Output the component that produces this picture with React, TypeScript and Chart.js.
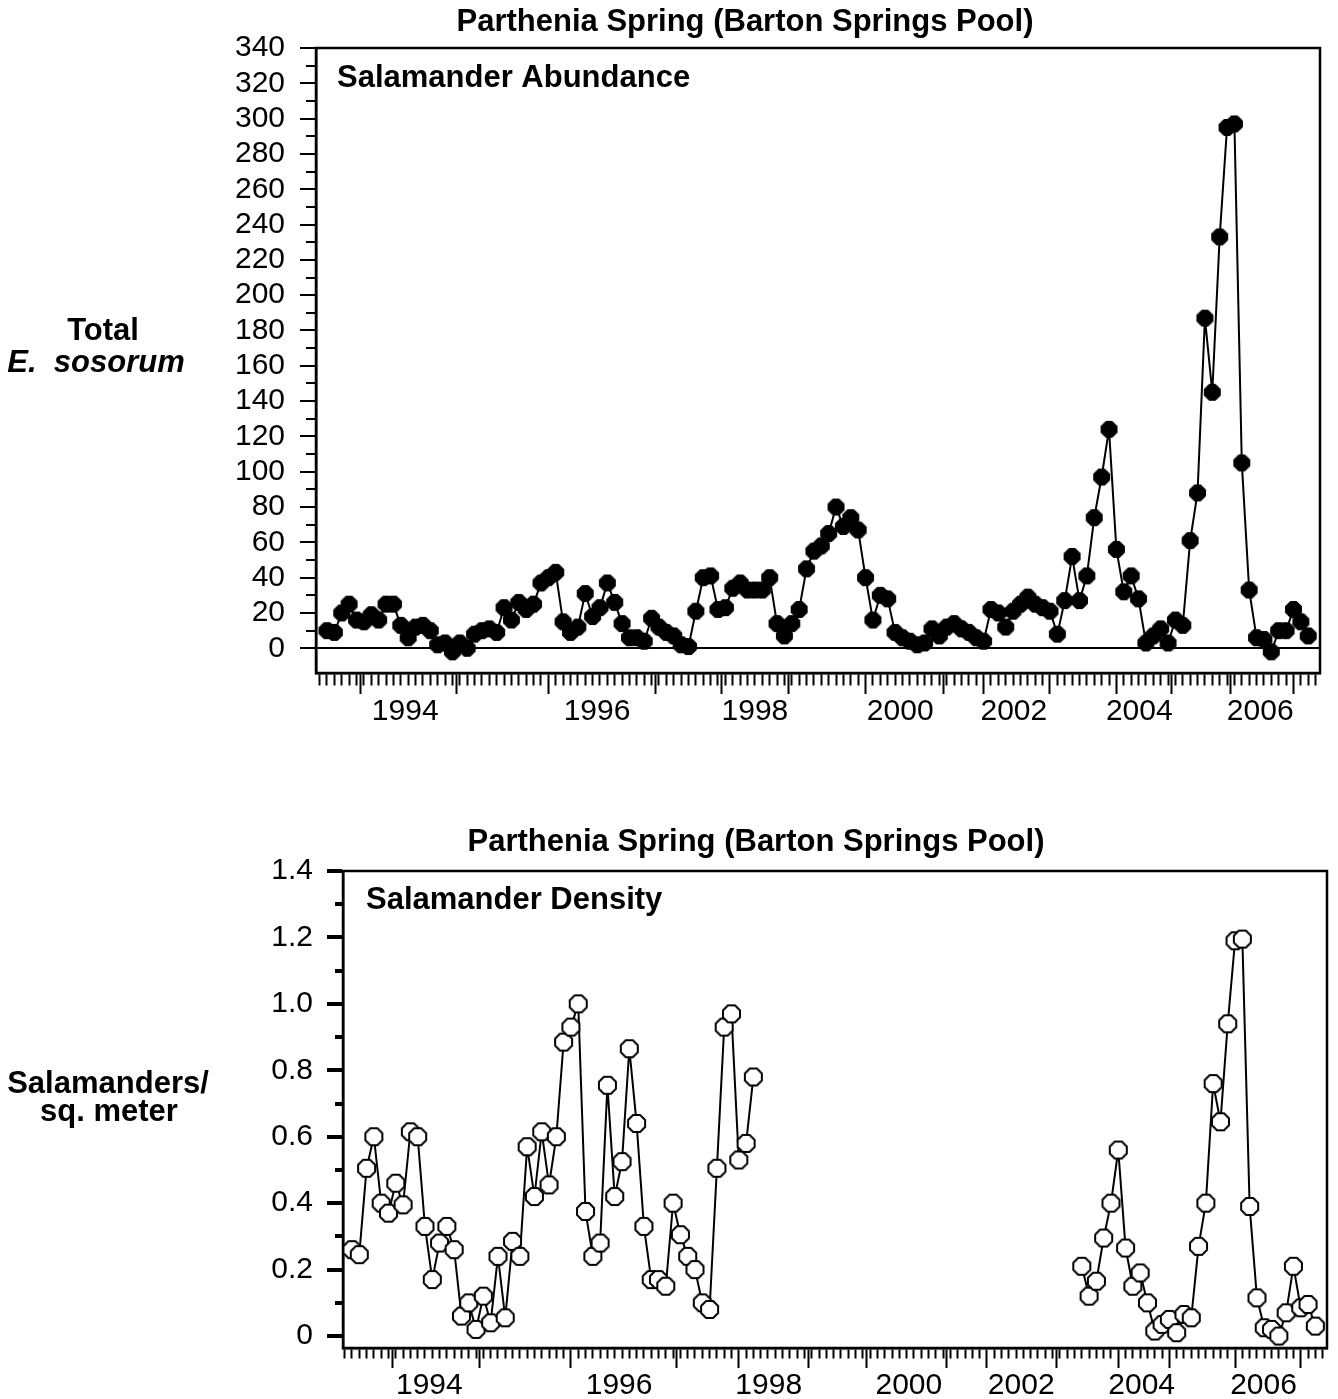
import React, { useEffect, useRef } from 'react';
import { Chart, registerables } from 'chart.js';

Chart.register(...registerables);

const FONT = "'Liberation Sans', Arial, Helvetica, sans-serif";

// ---- Data: one value per sampling event (x = sample number) ----
const abundance = [
  10, 9, 20, 25, 16, 15, 19, 16, 25, 25, 13, 6, 12, 13, 10, 2, 3, -2, 3, 0, 8, 10, 11, 9,
  23, 16, 26, 22, 25, 37, 40, 43, 15, 9, 12, 31, 18, 23, 37, 26, 14, 6, 6, 4, 17, 12, 9, 7, 2, 1,
  21, 40, 41, 22, 23, 34, 37, 33, 33, 33, 40, 14, 7, 14, 22, 45, 55, 58, 65, 80, 69, 74, 67, 40,
  16, 30, 28, 9, 6, 4, 2, 3, 11, 7, 12, 14, 11, 9, 6, 4,
  22, 20, 12, 21, 25, 29, 25, 23, 21, 8, 27, 52, 27, 41, 74, 97, 124, 56, 32, 41, 28, 3, 7, 11,
  3, 16, 13, 61, 88, 187, 145, 233, 295, 297, 105, 33, 6, 5, -2, 10, 10, 22, 15, 7,
];

const densityEarly = [
  0.26, 0.245, 0.505, 0.6, 0.4, 0.37, 0.46, 0.395, 0.615, 0.6, 0.33, 0.17, 0.28, 0.33, 0.26,
  0.06, 0.1, 0.02, 0.12, 0.04, 0.24, 0.055, 0.285, 0.24, 0.57, 0.42, 0.615, 0.455, 0.6, 0.885,
  0.93, 1.0, 0.375, 0.24, 0.28, 0.755, 0.42, 0.525, 0.865, 0.64, 0.33, 0.17, 0.17, 0.15, 0.4,
  0.305, 0.24, 0.2, 0.1, 0.08, 0.505, 0.93, 0.97, 0.53, 0.58, 0.78,
];
const densityLateStart = 100;
const densityLate = [
  0.21, 0.12, 0.165, 0.295, 0.4, 0.56, 0.265, 0.15, 0.19, 0.1, 0.015, 0.035, 0.05, 0.01, 0.065,
  0.055, 0.27, 0.4, 0.76, 0.645, 0.94, 1.19, 1.195, 0.39, 0.115, 0.025, 0.02, 0.0, 0.07, 0.21,
  0.085, 0.095, 0.03,
];

// ---- Axis tick labels (positions in sample-number units) ----
const yearLabels = ['1994', '1996', '1998', '2000', '2002', '2004', '2006'];
const abundanceLabelAt = [10.6, 36.6, 58.0, 77.7, 93.1, 110.1, 126.5];
const abundanceYearTicks = [4.5, 17.5, 30, 44.5, 53.5, 62.5, 73, 83.5, 89, 98, 107, 114.5, 122.5, 131];
const densityLabelAt = [10.6, 36.6, 57.1, 76.3, 91.7, 108.2, 124.9];
const densityYearTicks = [5.5, 17.5, 30, 44.5, 53, 62.5, 70.5, 81.5, 87, 96.5, 105, 112, 121, 130];

const abundanceYTicks = [0, 20, 40, 60, 80, 100, 120, 140, 160, 180, 200, 220, 240, 260, 280, 300, 320, 340];
const densityYTicks = [0, 0.2, 0.4, 0.6, 0.8, 1.0, 1.2, 1.4];
const densityYLabels = ['0', '0.2', '0.4', '0.6', '0.8', '1.0', '1.2', '1.4'];

type Kind = 'minor' | 'major' | 'label';

const TICK_FONT = { family: FONT, size: 30 };

function polygonMarker(radius: number, fill: string, stroke: string, lineWidth: number) {
  const size = Math.ceil(2 * radius + lineWidth + 2);
  const c = document.createElement('canvas');
  c.width = size;
  c.height = size;
  const g = c.getContext('2d')!;
  const cx = size / 2;
  const cy = size / 2;
  g.beginPath();
  for (let k = 0; k < 8; k++) {
    const a = Math.PI / 8 + (k * Math.PI) / 4;
    const px = cx + radius * Math.cos(a);
    const py = cy + radius * Math.sin(a);
    if (k === 0) g.moveTo(px, py);
    else g.lineTo(px, py);
  }
  g.closePath();
  g.fillStyle = fill;
  g.fill();
  if (lineWidth > 0) {
    g.lineWidth = lineWidth;
    g.strokeStyle = stroke;
    g.lineJoin = 'round';
    g.stroke();
  }
  return c;
}

function buildXAxis(cfg: any) {
  const kinds = new Map<number, Kind>();
  const texts = new Map<number, string>();
  const values: number[] = [];
  for (let i = Math.ceil(cfg.min); i <= Math.floor(cfg.max); i++) {
    if (cfg.majors.some((m: number) => Math.abs(m - i) < 0.3)) continue;
    kinds.set(i, 'minor');
    values.push(i);
  }
  cfg.majors.forEach((m: number) => { kinds.set(m, 'major'); values.push(m); });
  cfg.labelAt.forEach((p: number, k: number) => {
    if (!kinds.has(p)) { kinds.set(p, 'label'); values.push(p); }
    texts.set(p, yearLabels[k]);
  });
  values.sort((a, b) => a - b);
  const kindOf = (c: any) => (c && c.tick ? kinds.get(c.tick.value) : undefined);
  return {
    type: 'linear',
    position: 'bottom',
    min: cfg.min,
    max: cfg.max,
    border: { display: true, color: '#000', width: cfg.border },
    grid: {
      display: true,
      drawOnChartArea: false,
      drawTicks: true,
      tickLength: cfg.majorLen,
      tickWidth: 2,
      tickColor: (c: any) => (kindOf(c) === 'label' ? 'rgba(0,0,0,0)' : '#000'),
      tickBorderDash: (c: any) => (kindOf(c) === 'minor' ? [cfg.minorLen, 300] : []),
    },
    ticks: {
      autoSkip: false,
      maxRotation: 0,
      minRotation: 0,
      padding: cfg.labelPad,
      color: '#000',
      font: TICK_FONT,
      callback: (v: number) => texts.get(v) ?? '',
    },
    afterBuildTicks: (scale: any) => { scale.ticks = values.map((v) => ({ value: v })); },
    afterFit: (scale: any) => { scale.height = cfg.height; },
  };
}

function buildYAxis(cfg: any) {
  const texts = new Map<number, string>();
  const kinds = new Map<number, Kind>();
  const values: number[] = [];
  cfg.ticks.forEach((t: number, k: number) => {
    texts.set(t, cfg.labels[k]);
    kinds.set(t, 'major');
    values.push(t);
    if (k < cfg.ticks.length - 1) {
      const mid = (t + cfg.ticks[k + 1]) / 2;
      kinds.set(mid, 'minor');
      values.push(mid);
    }
  });
  values.sort((a, b) => a - b);
  const kindOf = (c: any) => (c && c.tick ? kinds.get(c.tick.value) : undefined);
  const isZero = (c: any) => !!(c && c.tick && c.tick.value === 0);
  return {
    type: 'linear',
    position: 'left',
    min: cfg.min,
    max: cfg.max,
    border: { display: true, color: '#000', width: cfg.border },
    grid: {
      display: true,
      drawOnChartArea: true,
      drawTicks: true,
      color: (c: any) => (cfg.zeroLine && isZero(c) ? '#000' : 'rgba(0,0,0,0)'),
      lineWidth: (c: any) => (cfg.zeroLine && isZero(c) ? 2 : 0),
      tickLength: cfg.tickLen,
      tickWidth: cfg.tickWidth,
      tickColor: '#000',
      tickBorderDash: (c: any) =>
        kindOf(c) === 'minor' ? [0, cfg.tickLen - cfg.minorLen, cfg.minorLen, 0] : [],
    },
    ticks: {
      autoSkip: false,
      padding: cfg.labelPad,
      color: '#000',
      font: TICK_FONT,
      callback: (v: number) => texts.get(v) ?? '',
    },
    afterBuildTicks: (scale: any) => { scale.ticks = values.map((v) => ({ value: v })); },
    afterFit: (scale: any) => { scale.width = cfg.width; },
  };
}

function decorPlugin(items: any[], frameWidth: number) {
  return {
    id: 'decor',
    beforeDatasetsDraw(chart: any) {
      const { ctx, chartArea: a } = chart;
      ctx.save();
      ctx.strokeStyle = '#000';
      ctx.lineWidth = frameWidth;
      ctx.strokeRect(a.left, a.top, a.right - a.left, a.bottom - a.top);
      ctx.restore();
    },
    afterDraw(chart: any) {
      const { ctx } = chart;
      ctx.save();
      ctx.fillStyle = '#000';
      ctx.textBaseline = 'middle';
      items.forEach((it) => {
        ctx.font = it.font;
        ctx.textAlign = it.align;
        ctx.fillText(it.text, it.x, it.y);
      });
      ctx.restore();
    },
  };
}

const TITLE = 'Parthenia Spring (Barton Springs Pool)';
const BOLD = `bold 31px ${FONT}`;
const BOLD_IT = `italic bold 31px ${FONT}`;

function useChart(ref: any, makeConfig: () => any) {
  useEffect(() => {
    const chart = new Chart(ref.current, makeConfig());
    return () => chart.destroy();
  }, []);
}

function AbundanceChart() {
  const ref = useRef<HTMLCanvasElement>(null);
  useChart(ref, () => ({
    type: 'line',
    data: {
      datasets: [
        {
          data: abundance.map((v, i) => ({ x: i, y: v })),
          borderColor: '#000',
          borderWidth: 2,
          backgroundColor: '#000',
          pointStyle: polygonMarker(8.6, '#000', '#000', 1),
          pointRadius: 8,
          pointBackgroundColor: '#000',
          pointBorderColor: '#000',
          tension: 0,
        },
      ],
    },
    options: {
      responsive: false,
      animation: false,
      events: [],
      layout: { padding: { left: 0, top: 48, right: 18, bottom: 0 } },
      plugins: { legend: { display: false }, title: { display: false }, tooltip: { enabled: false } },
      scales: {
        x: buildXAxis({
          min: -1.49, max: 134.6, majors: abundanceYearTicks, labelAt: abundanceLabelAt,
          majorLen: 21, minorLen: 11, height: 67, labelPad: 0, border: 2.5,
        }),
        y: buildYAxis({
          min: -14, max: 340, ticks: abundanceYTicks, labels: abundanceYTicks.map(String),
          tickLen: 16, minorLen: 10, tickWidth: 2, labelPad: 15, width: 316, zeroLine: true, border: 2.5,
        }),
      },
    },
    plugins: [
      decorPlugin(
        [
          { text: TITLE, x: 745, y: 22, font: BOLD, align: 'center' },
          { text: 'Salamander Abundance', x: 337, y: 78, font: BOLD, align: 'left' },
          { text: 'Total', x: 103, y: 331, font: BOLD, align: 'center' },
          { text: 'E.  sosorum', x: 96, y: 363, font: BOLD_IT, align: 'center' },
        ],
        2.5,
      ),
    ],
  }));
  return (
    <canvas ref={ref} width={1338} height={740}
      style={{ position: 'absolute', left: 0, top: 0, width: 1338, height: 740 }} />
  );
}

function DensityChart() {
  const ref = useRef<HTMLCanvasElement>(null);
  const marker = polygonMarker(9.2, '#fff', '#000', 2);
  const style = {
    borderColor: '#000',
    borderWidth: 2,
    backgroundColor: '#fff',
    pointStyle: marker,
    pointRadius: 9,
    pointBackgroundColor: '#fff',
    pointBorderColor: '#000',
    tension: 0,
  };
  useChart(ref, () => ({
    type: 'line',
    data: {
      datasets: [
        { data: densityEarly.map((v, i) => ({ x: i, y: v })), ...style },
        { data: densityLate.map((v, i) => ({ x: densityLateStart + i, y: v })), ...style },
      ],
    },
    options: {
      responsive: false,
      animation: false,
      events: [],
      layout: { padding: { left: 0, top: 131, right: 5, bottom: 0 } },
      plugins: { legend: { display: false }, title: { display: false }, tooltip: { enabled: false } },
      scales: {
        x: buildXAxis({
          min: -1.23, max: 133.6, majors: densityYearTicks, labelAt: densityLabelAt,
          majorLen: 20, minorLen: 9, height: 51, labelPad: 0, border: 2.5,
        }),
        y: buildYAxis({
          min: -0.036, max: 1.4, ticks: densityYTicks, labels: densityYLabels,
          tickLen: 16, minorLen: 8, tickWidth: 4, labelPad: 14, width: 343, zeroLine: false, border: 2.5,
        }),
      },
    },
    plugins: [
      decorPlugin(
        [
          { text: TITLE, x: 756, y: 102, font: BOLD, align: 'center' },
          { text: 'Salamander Density', x: 366, y: 160, font: BOLD, align: 'left' },
          { text: 'Salamanders/', x: 108, y: 344, font: BOLD, align: 'center' },
          { text: 'sq. meter', x: 109, y: 372, font: BOLD, align: 'center' },
        ],
        2.5,
      ),
    ],
  }));
  return (
    <canvas ref={ref} width={1338} height={659}
      style={{ position: 'absolute', left: 0, top: 740, width: 1338, height: 659 }} />
  );
}

export default function App() {
  return (
    <div style={{ position: 'absolute', left: 0, top: 0, width: 1338, height: 1399, background: '#fff' }}>
      <AbundanceChart />
      <DensityChart />
    </div>
  );
}
